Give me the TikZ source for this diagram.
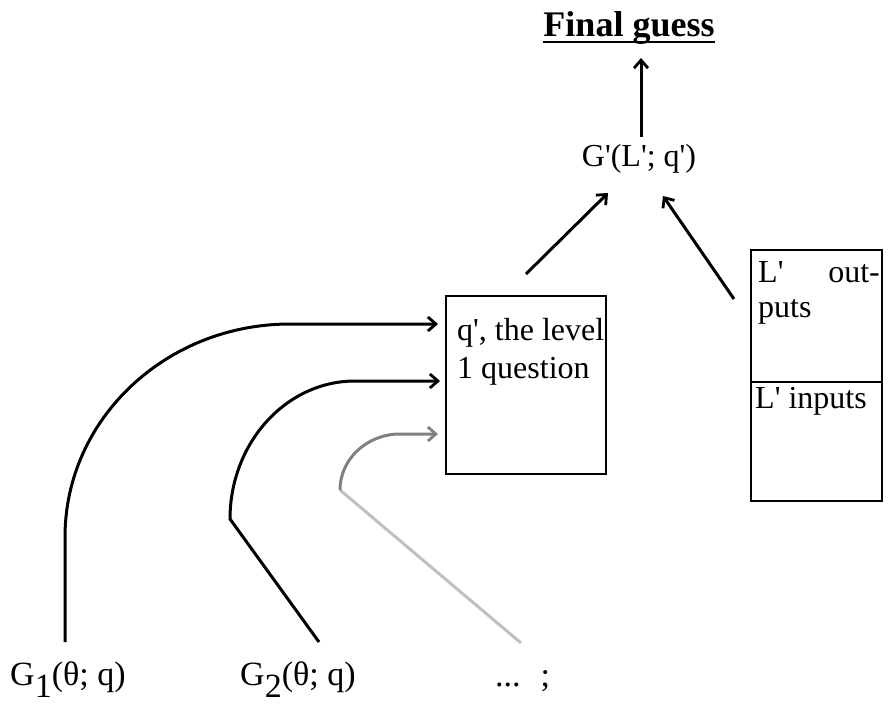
\documentclass[tikz,border=0pt]{standalone}
\usepackage{fontspec}
\setmainfont{Liberation Serif}[Ligatures=TeXOff]
\usetikzlibrary{arrows.meta}
\definecolor{darkgr}{HTML}{808080}
\definecolor{lightgr}{HTML}{C0C0C0}
\begin{document}
\begin{tikzpicture}[x=1pt,y=-1pt,
  lbl/.style={inner sep=0pt, font=\fontsize{32}{38}\selectfont},
  blbl/.style={inner sep=0pt, font=\fontsize{34}{40}\selectfont},
  conn/.style={line width=3pt},
  tip/.style={-{Straight Barb[length=8pt,width=14pt,line width=2.8pt]}},
  boxst/.style={draw, line width=1.4pt, inner sep=0pt}]
\useasboundingbox (0,0) rectangle (894,704);

% title and G'
\node[inner sep=0pt, font=\fontsize{36}{42}\selectfont\bfseries, anchor=base] (title) at (629,36) {Final guess};
\draw[line width=2.8pt] ([yshift=-6pt]title.base west) -- ([yshift=-6pt]title.base east);
\node[lbl, anchor=base] (gp) at (639,166) {G'(L'; q')};

% boxes
\node[boxst, minimum width=160pt, minimum height=178pt] (qbox) at (526,385) {};
\node[lbl, anchor=base west] (qt1) at (457,340) {q', the level};
\node[lbl, anchor=base west] (qt2) at (457,378) {1 question};

\node[boxst, minimum width=131pt, minimum height=132pt] (lout) at (816.5,316) {};
\node[boxst, minimum width=131pt, minimum height=119pt] (lin) at (816.5,441.5) {};
\node[lbl, anchor=base west] (lo1) at (758,282) {L'};
\node[lbl, anchor=base east] (lo2) at (880,282) {out-};
\node[lbl, anchor=base west] (lo3) at (758,317) {puts};
\node[lbl, anchor=base west] (li1) at (755,408) {L' inputs};

% bottom labels
\node[blbl, anchor=base west] (g1) at (10,685) {G\raisebox{-12.5pt}{1}(θ; q)};
\node[blbl, anchor=base west] (g2) at (240,685) {G\raisebox{-12.5pt}{2}(θ; q)};
\node[blbl, anchor=base west] (g3) at (495,686) {...\hspace{20pt};};

% connector end points
\coordinate (gpbot) at (641,137);
\coordinate (titlebot) at (641,58);
\coordinate (qtop) at (526,274);
\coordinate (gpin1) at (608,193);
\coordinate (ltop) at (734,299);
\coordinate (gpin2) at (663,196);
\coordinate (g1top) at (65,642);
\coordinate (g2top) at (319,642);
\coordinate (g3top) at (521,643);
\coordinate (qin1) at (438,324);
\coordinate (qin2) at (440,381);
\coordinate (qin3) at (438,434);

% connectors
\draw[conn,tip] (gpbot) -- (titlebot);
\draw[conn,tip] (qtop) -- (gpin1);
\draw[conn,tip] (ltop) -- (gpin2);

\draw[conn,tip] (g1top) -- (65,537) .. controls (65,419) and (166,324) .. (290,324) -- (qin1);
\draw[conn,tip] (g2top) -- (230,519) .. controls (230,443) and (286,381) .. (355,381) -- (qin2);
\draw[conn,lightgr] (g3top) -- (340,490);
\draw[conn,tip,darkgr] (340,490) .. controls (340,459) and (367,434) .. (400,434) -- (qin3);
\end{tikzpicture}
\end{document}
